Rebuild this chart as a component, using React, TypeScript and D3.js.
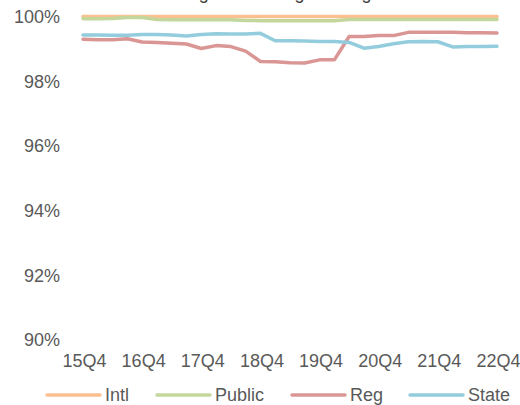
import React from "react";
import * as d3 from "d3";

const quarters = [
  "15Q4","16Q1","16Q2","16Q3","16Q4","17Q1","17Q2","17Q3","17Q4","18Q1","18Q2","18Q3","18Q4","19Q1","19Q2","19Q3","19Q4",
  "20Q1","20Q2","20Q3","20Q4","21Q1","21Q2","21Q3","21Q4","22Q1","22Q2","22Q3","22Q4",
];
const tickLabels = ["15Q4","16Q4","17Q4","18Q4","19Q4","20Q4","21Q4","22Q4"];
const yTicks = [90, 92, 94, 96, 98, 100];

const intl = [100,100,100,100,100,100,100,100,100,100,100,100,100,100,100,100,100,100,100,100,100,100,100,100,100,100,100,100,100];
const publicS = [99.93,99.93,99.94,99.97,99.97,99.91,99.9,99.9,99.9,99.9,99.9,99.88,99.87,99.87,99.87,99.87,99.87,99.87,99.91,99.91,99.91,99.91,99.91,99.91,99.91,99.91,99.91,99.91,99.91];
const reg = [99.3,99.28,99.28,99.31,99.21,99.2,99.17,99.15,99.01,99.1,99.07,98.93,98.61,98.6,98.57,98.56,98.66,98.66,99.38,99.38,99.41,99.41,99.51,99.51,99.51,99.51,99.5,99.5,99.49];
const state = [99.43,99.43,99.42,99.42,99.44,99.44,99.43,99.4,99.44,99.47,99.46,99.46,99.48,99.25,99.25,99.24,99.23,99.23,99.2,99.02,99.07,99.16,99.22,99.23,99.22,99.06,99.07,99.07,99.08];

const seriesNames = ["Intl", "Public", "Reg", "State"];
const seriesColors = ["#FAC090", "#C3D69B", "#D99694", "#93CDDD"];
const seriesData = [intl, publicS, reg, state];

const W = 520, H = 405;
const FONT = "'Liberation Sans', Arial, sans-serif";

export default function App() {
  const x = d3.scalePoint<string>().domain(quarters).range([83, 497]);
  const y = d3.scaleLinear().domain([90, 100]).range([340, 16.5]);
  const line = d3.line<number>().x((_, i) => x(quarters[i]) as number).y((d) => y(d));
  const legendX = [47, 157, 292, 410];

  return (
    <svg width={W} height={H} style={{ position: "absolute", left: 0, top: 0, background: "#fff" }} fontFamily={FONT}>
      <rect width={W} height={H} fill="#fff" />
      <text x={168} y={-0.8} fontSize={18} fill="#404040">Weighted Average Rating</text>
      {yTicks.map((t) => (
        <text key={t} x={60} y={y(t)} dy="0.35em" textAnchor="end" fontSize={18} fill="#595959">
          {t}%
        </text>
      ))}
      {tickLabels.map((t) => (
        <text key={t} x={(x(t) as number) + 1.5} y={367} textAnchor="middle" fontSize={18} fill="#595959">
          {t}
        </text>
      ))}
      {seriesData.map((s, k) => (
        <path key={k} d={line(s) || ""} fill="none" stroke={seriesColors[k]} strokeWidth={3.5} strokeLinejoin="round" strokeLinecap="round" />
      ))}
      {seriesNames.map((n, k) => (
        <g key={n}>
          <line x1={legendX[k]} x2={legendX[k] + 53} y1={395} y2={395} stroke={seriesColors[k]} strokeWidth={3.5} strokeLinecap="round" />
          <text x={legendX[k] + 58} y={395} dy="0.35em" fontSize={18} fill="#595959">{n}</text>
        </g>
      ))}
    </svg>
  );
}
